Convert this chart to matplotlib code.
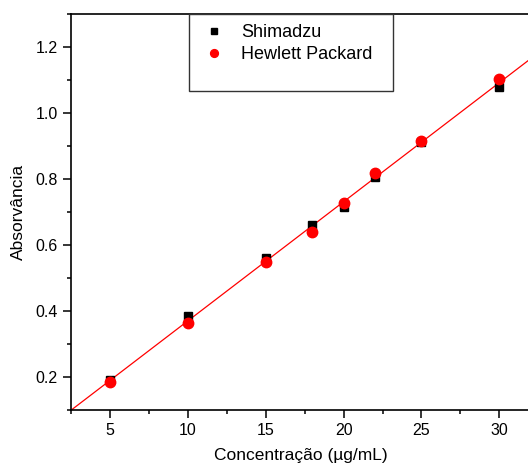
import matplotlib
matplotlib.use('Agg')
import matplotlib.pyplot as plt
import numpy as np
from matplotlib.patches import Rectangle
from matplotlib.ticker import MultipleLocator

plt.rcParams['font.family'] = ['Liberation Sans', 'DejaVu Sans']

conc = [5, 10, 15, 18, 20, 22, 25, 30]
shimadzu = [0.190, 0.384, 0.561, 0.662, 0.714, 0.807, 0.912, 1.080]
hp = [0.186, 0.364, 0.548, 0.640, 0.728, 0.819, 0.916, 1.102]

# linear fit through both sets
x_all = np.array(conc + conc)
y_all = np.array(shimadzu + hp)
slope, intercept = np.polyfit(x_all, y_all, 1)

fig = plt.figure(figsize=(5.28, 4.68), dpi=100)
ax = fig.add_axes([71/528, 1 - 410/468, 459.5/528, 396/468])

xfit = np.linspace(2.5, 32, 100)
ax.plot(xfit, slope * xfit + intercept, color='red', lw=0.9, zorder=2)
ax.plot(conc, shimadzu, 's', color='black', ms=6, zorder=3, label='Shimadzu')
ax.plot(conc, hp, 'o', color='red', ms=7.5, mec='red', zorder=4, label='Hewlett Packard')

ax.set_xlim(2.5, 32)
ax.set_ylim(0.1, 1.3)
ax.xaxis.set_major_locator(MultipleLocator(5))
ax.xaxis.set_minor_locator(MultipleLocator(2.5))
ax.yaxis.set_major_locator(MultipleLocator(0.2))
ax.yaxis.set_minor_locator(MultipleLocator(0.1))
ax.yaxis.set_major_formatter(plt.FormatStrFormatter('%.1f'))

for s in ['left', 'bottom', 'top']:
    ax.spines[s].set_linewidth(1.2)
ax.spines['right'].set_visible(False)
ax.tick_params(which='major', direction='out', length=5.5, width=1.1, labelsize=11.5, pad=4)
ax.tick_params(which='minor', direction='out', length=3, width=1.1)

ax.set_xlabel('Concentração (µg/mL)', fontsize=12.5, labelpad=7)
ax.set_ylabel('Absorvância', fontsize=12.5, labelpad=7)

# legend box in Origin style
fig.patches.append(Rectangle((189/528, 1 - 91/468), 204/528, 77/468,
                             transform=fig.transFigure, fill=False,
                             edgecolor='#333333', lw=1.0))
leg = fig.legend(loc='upper left', bbox_to_anchor=(196/528, 1 - 15/468),
                 frameon=False, fontsize=13, handletextpad=1.0,
                 handlelength=1.0, labelspacing=0.3, borderpad=0,
                 markerscale=0.75)

fig.savefig('out.png', dpi=100)
